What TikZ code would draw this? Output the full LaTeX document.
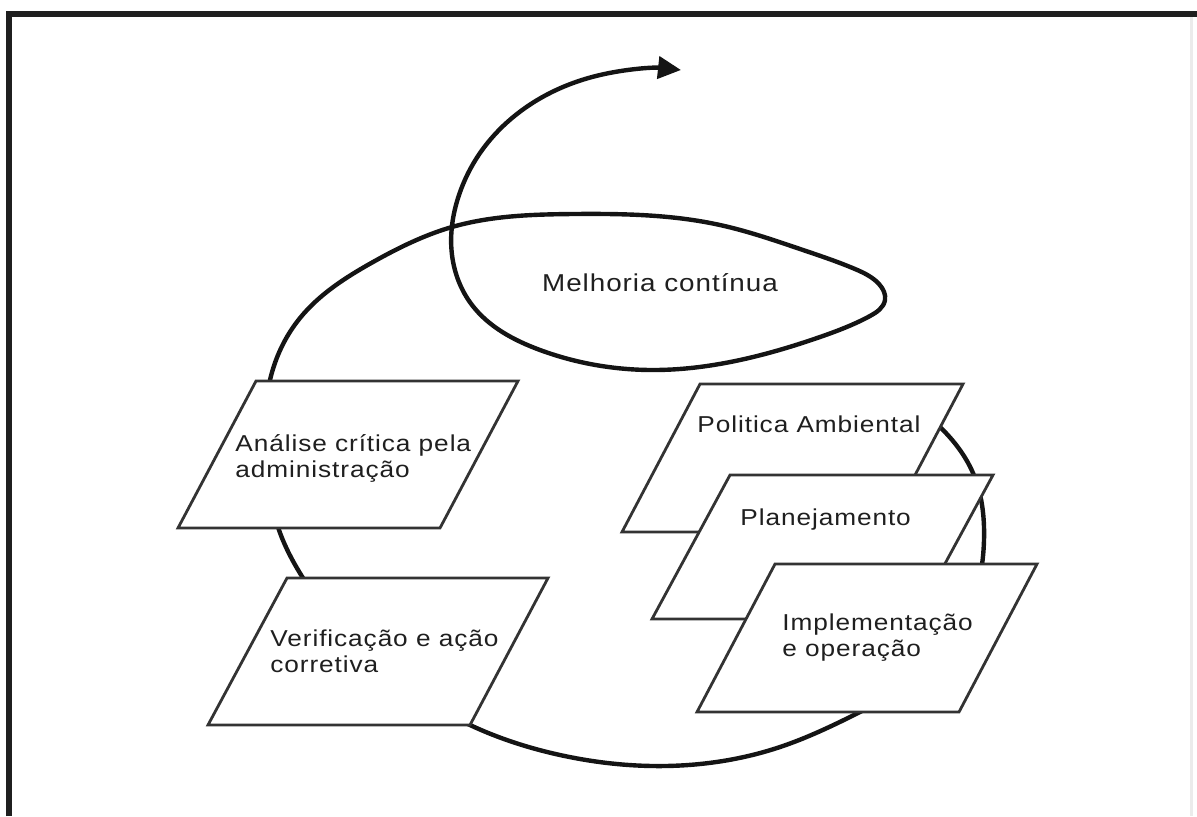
\documentclass[tikz,border=0pt]{standalone}
\usepackage{fontspec}
\setmainfont{Liberation Sans}[FakeStretch=1.14,LetterSpace=4]
\usetikzlibrary{hobby,arrows.meta}
\begin{document}
\begin{tikzpicture}[x=0.5pt,y=-0.5pt,
  frameline/.style={line width=3pt, draw=black!88},
  cycleline/.style={line width=2.2pt, draw=black!92, line cap=round, line join=round},
  plate/.style={draw=black!80, line width=1.4pt, fill=white, line join=miter},
  label/.style={inner sep=0pt, text=black!88, font=\fontsize{11.5}{13}\selectfont},
  biglabel/.style={label, font=\fontsize{12.2}{14}\selectfont}]
\useasboundingbox (0,0) rectangle (1197,816);

% outer frame
\draw[frameline] (9,816) -- (9,14) -- (1197,14);
\draw[line width=1.5pt, black!8] (1191,17) -- (1191,816);

% the improvement spiral: one lap of the cycle, a loop, then out
\draw[cycleline, -{Triangle[length=11.5pt,width=11pt]}, use Hobby shortcut]
  (905,400) .. (940,427) .. (973,473) .. (984,540) .. (970,610) .. (925,672)
  .. (860,712) .. (780,747) .. (653,766) .. (560,755) .. (470,725)
  .. (375,662) .. (303,578) .. (279,530) .. (266,455) .. (270,380)
  .. (300,318) .. (373,262) .. (452,227) .. (573,214) .. (720,225)
  .. (803,250) .. (855,269) .. (879,284) .. (885,300) .. (870,316) .. (820,337)
  .. (753,357) .. (653,370) .. (540,350) .. (472,305) .. (452,255)
  .. (459,195) .. (480,153) .. (512,118) .. (552,92) .. (600,75) .. (681,70);

% steps of the cycle
\draw[plate] (178,528) -- (440,528) -- (518,381) -- (256,381) -- cycle;
\node[label, anchor=base west] (analise) at (235,451)
  {\begin{tabular}[t]{@{}l@{}}Análise crítica pela\\administração\end{tabular}};

\draw[plate] (208,725) -- (470,725) -- (548,578) -- (287,578) -- cycle;
\node[label, anchor=base west] (verificacao) at (270,646)
  {\begin{tabular}[t]{@{}l@{}}Verificação e ação\\corretiva\end{tabular}};

\draw[plate] (622,532) -- (885,532) -- (963,384) -- (700,384) -- cycle;
\node[label, anchor=base west] (politica) at (697,432) {Politica Ambiental};

\draw[plate] (652,619) -- (915,619) -- (993,475) -- (730,475) -- cycle;
\node[label, anchor=base west] (planejamento) at (740,525) {Planejamento};

\draw[plate] (697,712) -- (959,712) -- (1037,564) -- (775,564) -- cycle;
\node[label, anchor=base west] (implementacao) at (782,630)
  {\begin{tabular}[t]{@{}l@{}}Implementação\\e operação\end{tabular}};

\node[biglabel, anchor=base] (melhoria) at (660,291) {Melhoria contínua};
\end{tikzpicture}
\end{document}
